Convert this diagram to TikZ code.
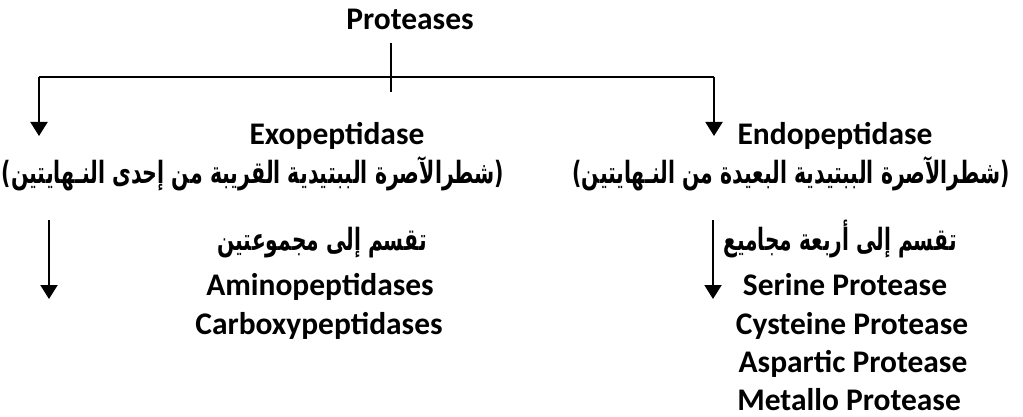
\documentclass[tikz,border=0pt]{standalone}
\usepackage{fontspec}
\usepackage{graphicx}
\usetikzlibrary{arrows.meta}
\setmainfont{Carlito}
\newfontfamily\arabicfont[Script=Arabic]{DejaVu Sans}
\newfontfamily\parenfont{DejaVu Sans}
\TeXXeTstate=1
% Arabic line squeezed to a given width, height kept
\newcommand{\arline}[2]{\resizebox{#1}{\height}{#2}}
\newcommand{\lp}{{\parenfont\bfseries(}}
\newcommand{\rp}{{\parenfont\bfseries)}}
\tikzset{
  lat/.style={anchor=base, inner sep=0pt, font=\fontsize{23.6}{28}\selectfont\bfseries},
  arab/.style={anchor=base, inner sep=0pt, font=\arabicfont\fontsize{23}{27}\selectfont\bfseries},
  conn/.style={line width=1.5pt},
  arr/.style={line width=1.5pt, -{Triangle[width=12.75pt,length=10.5pt]}}
}
\begin{document}
\begin{tikzpicture}[x=0.75pt, y=-0.75pt]
\useasboundingbox (0,0) rectangle (1023,417);
% titles
\node[lat] (prot) at (410,30) {Proteases};
\node[lat] (exo) at (337,145) {Exopeptidase};
\node[lat] (endo) at (835,145) {Endopeptidase};
\node[arab] (exoar) at (253,183) {\arline{377pt}{\lp\beginR شطرالآصرة الببتيدية القريبة من إحدى النـهايتين\endR\rp}};
\node[arab] (endoar) at (791,183) {\arline{328pt}{\lp\beginR شطرالآصرة الببتيدية البعيدة من النـهايتين\endR\rp}};
% exopeptidase groups
\node[arab] (exodiv) at (322,250) {\arline{157pt}{\beginR تقسم إلى مجموعتين\endR}};
\node[lat] (amino) at (320,295) {Aminopeptidases};
\node[lat] (carb) at (319,334) {Carboxypeptidases};
% endopeptidase groups
\node[arab] (endodiv) at (840,250) {\arline{175pt}{\beginR تقسم إلى أربعة مجاميع\endR}};
\node[lat] (ser) at (845,295) {Serine Protease};
\node[lat] (cys) at (852,334) {Cysteine Protease};
\node[lat] (asp) at (853,372) {Aspartic Protease};
\node[lat] (met) at (849,410) {Metallo Protease};
% connector points
\coordinate (stemTop) at (391,43);
\coordinate (stemBot) at (391,92);
\coordinate (hl) at (39,77);
\coordinate (hr) at (714,77);
\coordinate (exoTip) at (39,136);
\coordinate (endoTip) at (714,136);
\coordinate (exoDownTop) at (49,220);
\coordinate (exoDownTip) at (49,299);
\coordinate (endoDownTop) at (713,220);
\coordinate (endoDownTip) at (713,299);
% connectors
\draw[conn] (stemTop) -- (stemBot);
\draw[conn] (hl) -- (hr);
\draw[arr] (hl) -- (exoTip);
\draw[arr] (hr) -- (endoTip);
\draw[arr] (exoDownTop) -- (exoDownTip);
\draw[arr] (endoDownTop) -- (endoDownTip);
\end{tikzpicture}
\end{document}
